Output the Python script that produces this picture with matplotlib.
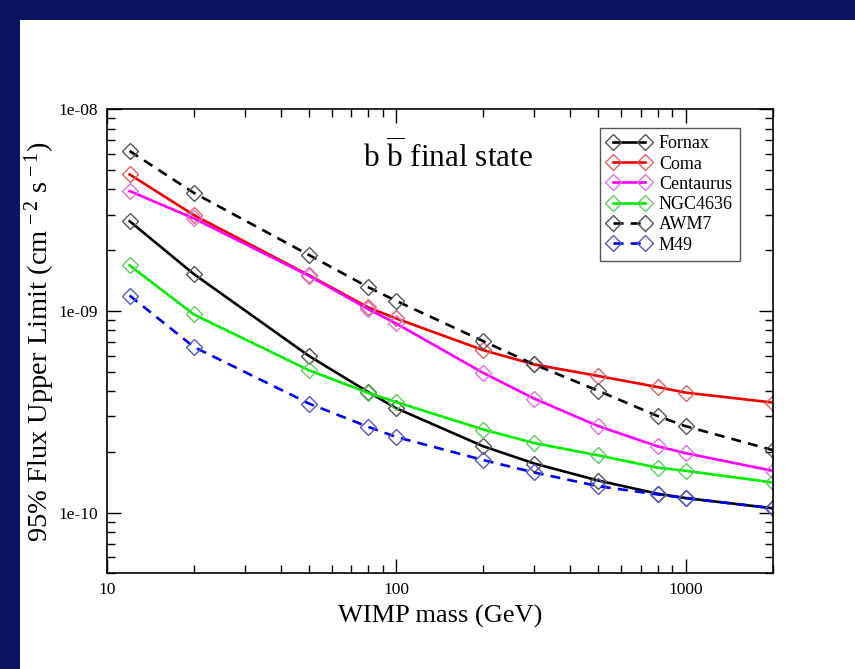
"""
95% flux upper limits vs WIMP mass for the b-bbar final state.
"""

import matplotlib
matplotlib.use('Agg')
import matplotlib.pyplot as plt
from matplotlib.patches import Rectangle
from matplotlib.ticker import LogLocator, NullFormatter, FixedLocator, FixedFormatter

plt.rcParams['font.family'] = ['Liberation Serif', 'DejaVu Serif']
plt.rcParams['mathtext.fontset'] = 'custom'
plt.rcParams['mathtext.rm'] = 'Liberation Serif'
plt.rcParams['mathtext.it'] = 'Liberation Serif:italic'

masses = [12, 20, 50, 80, 100, 200, 300, 500, 800, 1000, 2000]

fornax = [2.78e-9, 1.52e-9, 5.97e-10, 3.96e-10, 3.29e-10, 2.13e-10,
          1.75e-10, 1.44e-10, 1.24e-10, 1.18e-10, 1.05e-10]
coma = [4.74e-9, 2.98e-9, 1.50e-9, 1.04e-9, 9.16e-10, 6.38e-10,
        5.42e-10, 4.75e-10, 4.19e-10, 3.93e-10, 3.51e-10]
centaurus = [3.92e-9, 2.87e-9, 1.49e-9, 1.02e-9, 8.65e-10, 4.92e-10,
             3.67e-10, 2.68e-10, 2.13e-10, 1.97e-10, 1.61e-10]
ngc4636 = [1.68e-9, 9.59e-10, 5.07e-10, 3.92e-10, 3.53e-10, 2.58e-10,
           2.21e-10, 1.92e-10, 1.67e-10, 1.61e-10, 1.41e-10]
awm7 = [6.19e-9, 3.84e-9, 1.89e-9, 1.31e-9, 1.12e-9, 7.07e-10,
        5.42e-10, 4.01e-10, 3.01e-10, 2.68e-10, 2.04e-10]
m49 = [1.19e-9, 6.62e-10, 3.47e-10, 2.66e-10, 2.37e-10, 1.82e-10,
       1.58e-10, 1.35e-10, 1.23e-10, 1.18e-10, 1.05e-10]

dashed = (0, (3.8, 2.7))
series = [
    ('Fornax', fornax, '#000000', '#555555', '-'),
    ('Coma', coma, '#ee0000', '#e06060', '-'),
    ('Centaurus', centaurus, '#ff00ff', '#e070e0', '-'),
    ('NGC4636', ngc4636, '#00ee00', '#60c860', '-'),
    ('AWM7', awm7, '#000000', '#555555', dashed),
    ('M49', m49, '#0000ee', '#5555cc', dashed),
]

fig = plt.figure(figsize=(8.55, 6.69), dpi=100)
fig.patch.set_facecolor('white')
# dark blue slide border along the top and left edges
fig.add_artist(Rectangle((0, 1 - 20 / 669), 1, 20 / 669, transform=fig.transFigure,
                         facecolor='#0b1563', edgecolor='none', zorder=0))
fig.add_artist(Rectangle((0, 0), 20 / 855, 1, transform=fig.transFigure,
                         facecolor='#0b1563', edgecolor='none', zorder=0))

ax = fig.add_axes([106.7 / 855, 1 - 573.3 / 669, 666 / 855, 464.3 / 669])

for name, vals, color, mcolor, ls in series:
    ax.plot(masses, vals, color=color, linestyle=ls, linewidth=1.9,
            marker='D', markersize=7.8, markerfacecolor='none',
            markeredgecolor=mcolor, markeredgewidth=1.0, label=name)

ax.set_xscale('log')
ax.set_yscale('log')
ax.set_xlim(10, 2000)
ax.set_ylim(5e-11, 1e-8)

ax.yaxis.set_major_locator(FixedLocator([1e-10, 1e-9, 1e-8]))
ax.yaxis.set_major_formatter(FixedFormatter(['1e-10', '1e-09', '1e-08']))
ax.yaxis.set_minor_locator(LogLocator(base=10, subs=range(2, 10)))
ax.yaxis.set_minor_formatter(NullFormatter())
ax.xaxis.set_major_locator(FixedLocator([10, 100, 1000]))
ax.xaxis.set_major_formatter(FixedFormatter(['10', '100', '1000']))
ax.xaxis.set_minor_locator(LogLocator(base=10, subs=range(2, 10)))
ax.xaxis.set_minor_formatter(NullFormatter())

ax.tick_params(which='both', direction='in', top=True, right=True, width=1.0)
ax.tick_params(which='major', length=10, labelsize=12.5, pad=6)
ax.tick_params(which='minor', length=5.5)
for sp in ax.spines.values():
    sp.set_linewidth(1.2)

ax.set_xlabel('WIMP mass (GeV)', fontsize=19, labelpad=5)
ax.set_ylabel(r'95% Flux Upper Limit (cm$^{\,-2}$ s$^{\,-1}$)', fontsize=20.5, labelpad=1)

ax.text(0.385, 0.897, r'b $\overline{\mathrm{b}}$ final state', transform=ax.transAxes,
        fontsize=22.5, ha='left', va='center')

leg = ax.legend(loc='upper left', bbox_to_anchor=(0.741, 0.959), borderaxespad=0,
                fontsize=13, numpoints=2, handlelength=2.4, handletextpad=0.45,
                labelspacing=0.18, borderpad=0.4, fancybox=False, framealpha=1)
leg.get_frame().set_edgecolor('#555555')
leg.get_frame().set_linewidth(1.0)

fig.savefig('out.png', dpi=100)
